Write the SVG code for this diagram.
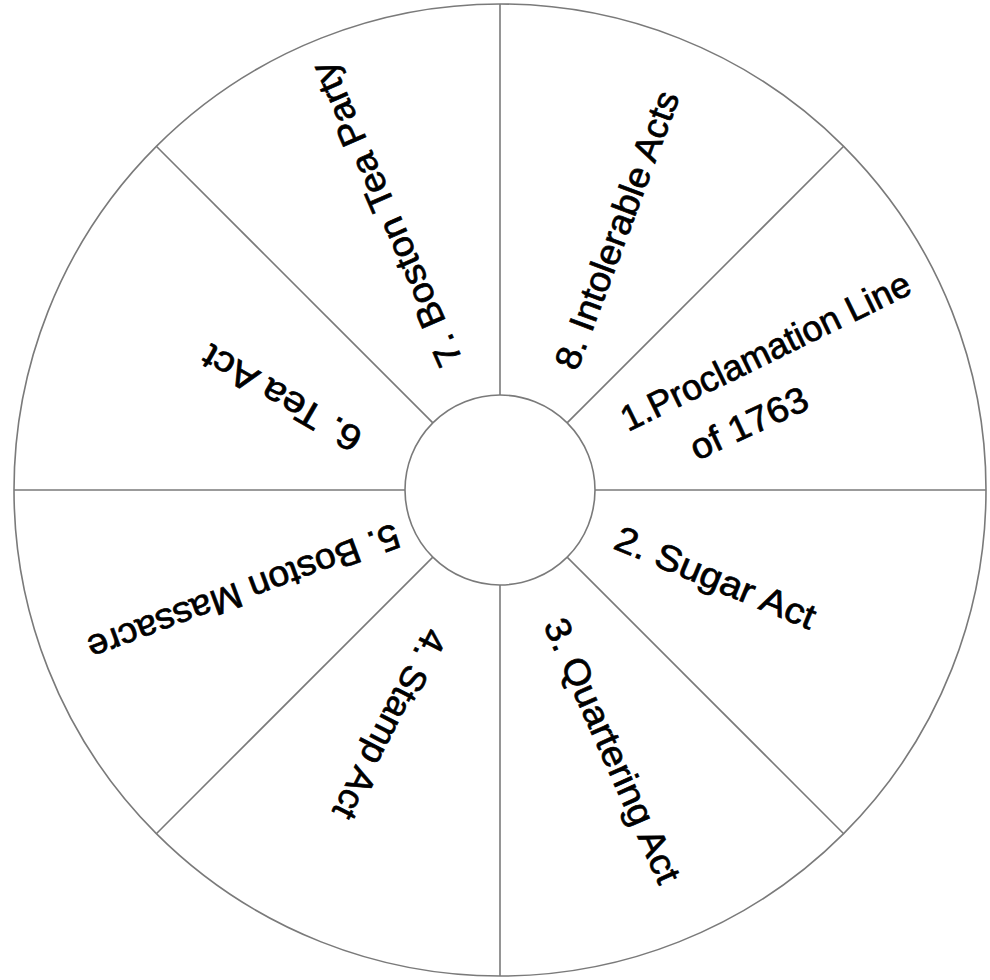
<svg xmlns="http://www.w3.org/2000/svg" width="990" height="980" viewBox="0 0 990 980">
<style>
.ln{stroke:#7a7a7a;stroke-width:1.6;fill:none}
.disc{stroke:#7a7a7a;stroke-width:1.6;fill:#fff}
.lbl{font-family:"Liberation Sans","DejaVu Sans",sans-serif;font-size:36px;fill:#000;stroke:#000;stroke-width:0.7}
</style>
<rect width="990" height="980" fill="#fff"/>
<g id="wheel">
<circle class="disc" cx="500" cy="490" r="486"/>
</g>
<g id="connectors">
<line class="ln" x1="500" y1="4" x2="500" y2="976"/>
<line class="ln" x1="14" y1="490" x2="986" y2="490"/>
<line class="ln" x1="156.3" y1="146.3" x2="843.7" y2="833.7"/>
<line class="ln" x1="843.7" y1="146.3" x2="156.3" y2="833.7"/>
</g>
<g id="hub">
<circle class="disc" cx="500" cy="490" r="95"/>
</g>
<g id="n1">
<text class="lbl" transform="translate(628,432) rotate(-26)" textLength="318" lengthAdjust="spacingAndGlyphs">1.Proclamation Line</text>
<text class="lbl" transform="translate(697,461) rotate(-25)" textLength="126" lengthAdjust="spacingAndGlyphs">of 1763</text>
</g>
<g id="n2">
<text class="lbl" transform="translate(612,548) rotate(22.5)" textLength="214" lengthAdjust="spacingAndGlyphs">2. Sugar Act</text>
</g>
<g id="n3">
<text class="lbl" transform="translate(543,625) rotate(66)" textLength="286" lengthAdjust="spacingAndGlyphs">3. Quartering Act</text>
</g>
<g id="n4">
<text class="lbl" transform="translate(426,626) rotate(117)" textLength="208" lengthAdjust="spacingAndGlyphs">4. Stamp Act</text>
</g>
<g id="n5">
<text class="lbl" transform="translate(394,523) rotate(159.5)" textLength="330" lengthAdjust="spacingAndGlyphs">5. Boston Massacre</text>
</g>
<g id="n6">
<text class="lbl" transform="translate(365,432) rotate(210)" textLength="178" lengthAdjust="spacingAndGlyphs">6. Tea Act</text>
</g>
<g id="n7">
<text class="lbl" transform="translate(463,360) rotate(246.5)" textLength="328" lengthAdjust="spacingAndGlyphs">7. Boston Tea Party</text>
</g>
<g id="n8">
<text class="lbl" transform="translate(577,372) rotate(-69.5)" textLength="294" lengthAdjust="spacingAndGlyphs">8. Intolerable Acts</text>
</g>
</svg>
